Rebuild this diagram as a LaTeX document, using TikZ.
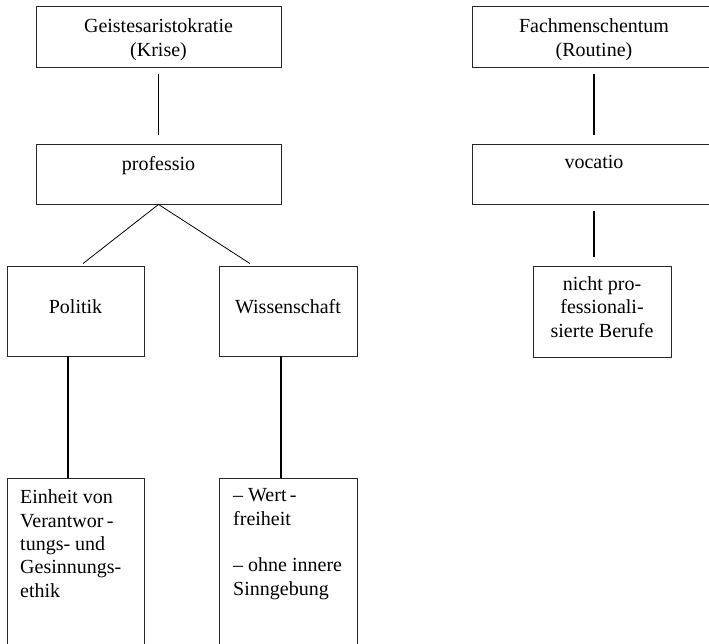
\documentclass[tikz,border=0pt]{standalone}
\usepackage{fontspec}
\setmainfont{Liberation Serif}
\usetikzlibrary{calc}
\begin{document}
\begin{tikzpicture}[x=1pt,y=-1pt,
  box/.style={draw=black!85,line width=0.9pt,rectangle,inner sep=0pt,minimum width=#1},
  thin/.style={draw=black,line width=0.8pt},
  thick/.style={draw=black,line width=1.7pt},
  txt/.style={font=\fontsize{20}{23.3}\selectfont,inner sep=0pt,align=center,anchor=base},
  ltxt/.style={font=\fontsize{20}{23.3}\selectfont,inner sep=0pt,align=left,anchor=base west}]
\useasboundingbox (0,0) rectangle (709,643);
\clip (0,0) rectangle (709,643);
% boxes
\node[box=245,minimum height=61] (geist) at (158.5,36.5) {};
\node[box=245,minimum height=60] (prof) at (158.5,174) {};
\node[box=137,minimum height=90] (pol) at (75.5,311) {};
\node[box=138,minimum height=90] (wiss) at (288,311) {};
\node[box=137,minimum height=222] (einh) at (75.5,589) {};
\node[box=138,minimum height=222] (wert) at (288,589) {};
\node[box=258,minimum height=61] (fach) at (601,36.5) {};
\node[box=258,minimum height=60] (voc) at (601,174) {};
\node[box=138,minimum height=91] (nicht) at (602,311.5) {};
% texts (base anchor = baseline of the last line)
\node[txt] (tgeist) at (158.5,56) {Geistesaristokratie\\(Krise)};
\node[txt] (tprof) at (158.5,170) {professio};
\node[txt] (tpol) at (75.5,313) {Politik};
\node[txt] (twiss) at (288,313) {Wissenschaft};
\node[ltxt] (teinh) at (20,597) {Einheit von\\Verantwor\,-\\tungs- und\\Gesinnungs-\\ethik};
\node[ltxt] (twert) at (233,595) {– Wert\,-\\freiheit\\[23.3pt]– ohne innere\\Sinngebung};
\node[txt] (tfach) at (594,56) {Fachmenschentum\\(Routine)};
\node[txt] (tvoc) at (594,168) {vocatio};
\node[txt] (tnicht) at (602,337) {nicht pro-\\fessionali-\\sierte Berufe};
% connectors
\draw[thin] ($(geist.south)+(0,7)$) -- ($(prof.north)+(0,-9)$);
\draw[thin] (prof.south) -- ($(pol.north)+(7.5,-2)$);
\draw[thin] (prof.south) -- ($(wiss.north)+(-38,-2)$);
\draw[thick] ($(pol.south)+(-7.5,0)$) -- ($(einh.north)+(-7.5,0)$);
\draw[thick] ($(wiss.south)+(-7,0)$) -- ($(wert.north)+(-7,0)$);
\draw[thick] ($(fach.south)+(-7,7)$) -- ($(voc.north)+(-7,-9)$);
\draw[thick] ($(voc.south)+(-7,7)$) -- ($(nicht.north)+(-8,-9)$);
\end{tikzpicture}
\end{document}
